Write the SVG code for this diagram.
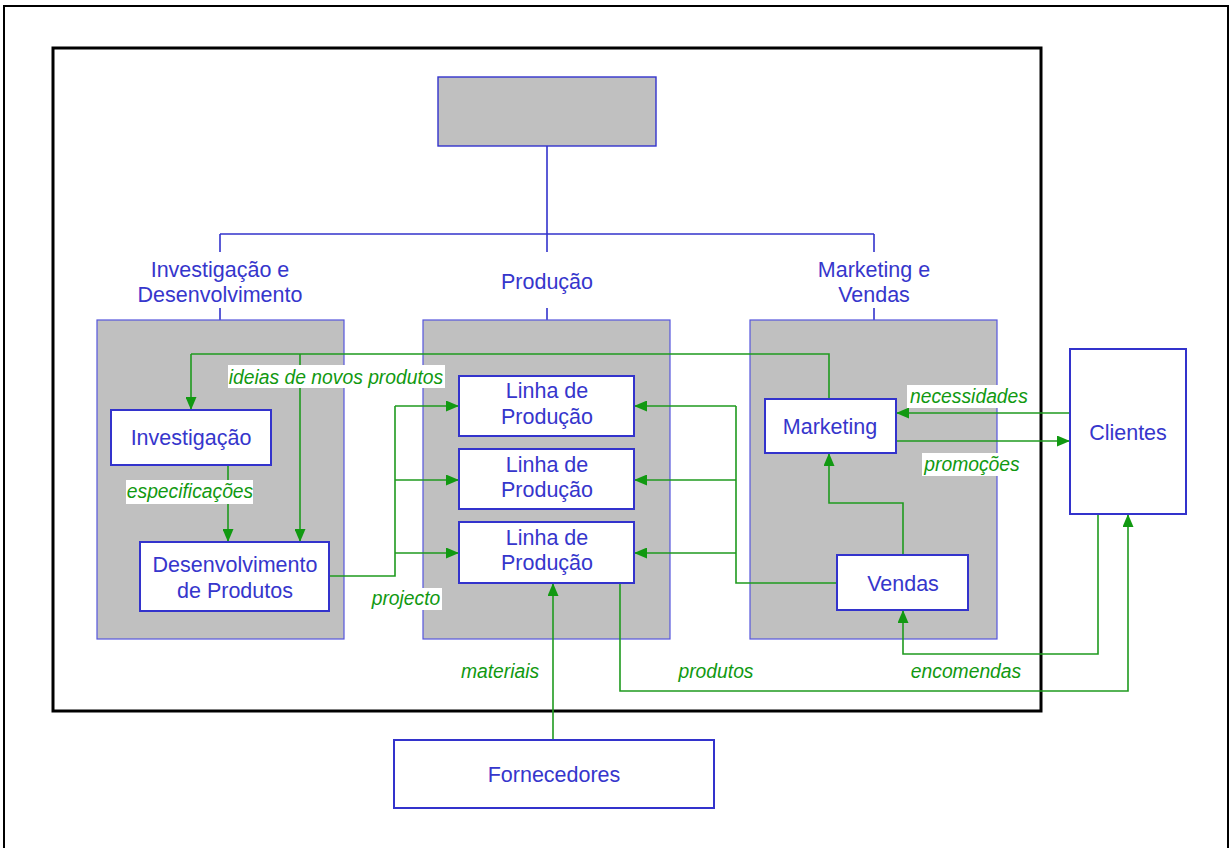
<svg xmlns="http://www.w3.org/2000/svg" width="1232" height="848" viewBox="0 0 1232 848">
  <style>
    .frame { fill: none; stroke: #000; }
    .org { fill: none; stroke: #3333cc; stroke-width: 1.6; }
    .col { fill: #c0c0c0; stroke: #5555dd; stroke-width: 1.2; }
    .box { fill: #fff; stroke: #3333cc; stroke-width: 2; }
    .head { fill: #c0c0c0; stroke: #3333cc; stroke-width: 1.4; }
    .t { font-family: "Liberation Sans", Arial, sans-serif; font-size: 21.5px; fill: #3636cc; text-anchor: middle; }
    .g { font-family: "Liberation Sans", Arial, sans-serif; font-size: 19.3px; font-style: italic; fill: #119911; text-anchor: middle; }
    .lbg { fill: #fff; }
    .flow { fill: none; stroke: #1f9a1f; stroke-width: 1.6; marker-end: url(#arr); }
    .flow0 { fill: none; stroke: #1f9a1f; stroke-width: 1.6; }
  </style>
  <defs>
    <marker id="arr" viewBox="0 0 13 11" refX="13" refY="5.5" markerWidth="13" markerHeight="11" markerUnits="userSpaceOnUse" orient="auto">
      <path d="M0,0 L13,5.5 L0,11 z" fill="#119911"/>
    </marker>
  </defs>

  <rect width="1232" height="848" fill="#fff"/>
  <!-- page frames -->
  <rect class="frame" x="4" y="6" width="1224" height="870" stroke-width="2"/>
  <rect class="frame" x="53" y="48" width="988" height="663" stroke-width="3"/>

  <!-- organisation chart lines -->
  <g id="org-lines">
    <path class="org" d="M547,146 V234 M220,234 H874 M220,234 V252 M547,234 V252 M874,234 V252 M220,308 V320 M547,308 V320 M874,308 V320"/>
  </g>

  <g id="top">
    <rect class="head" x="438" y="77" width="218" height="69"/>
  </g>

  <!-- department columns -->
  <g id="col-id">
    <text class="t" x="220" y="277">Investigação e</text>
    <text class="t" x="220" y="302">Desenvolvimento</text>
    <rect class="col" x="97" y="320" width="247" height="319"/>
  </g>
  <g id="col-prod">
    <text class="t" x="547" y="289">Produção</text>
    <rect class="col" x="423" y="320" width="247" height="319"/>
  </g>
  <g id="col-mv">
    <text class="t" x="874" y="277">Marketing e</text>
    <text class="t" x="874" y="302">Vendas</text>
    <rect class="col" x="750" y="320" width="247" height="319"/>
  </g>

  <!-- connectors -->
  <g id="connectors">
    <!-- ideias de novos produtos -->
    <path class="flow0" d="M829,399 V354 H191"/>
    <path class="flow" d="M191,354 V410"/>
    <path class="flow" d="M300,354 V542"/>
    <!-- especificações -->
    <path class="flow" d="M228,465 V542"/>
    <!-- projecto -->
    <path class="flow0" d="M329,576 H395 V406"/>
    <path class="flow" d="M395,406 H459"/>
    <path class="flow" d="M395,480 H459"/>
    <path class="flow" d="M395,553 H459"/>
    <!-- vendas to production lines -->
    <path class="flow0" d="M837,583 H736 V406"/>
    <path class="flow" d="M736,406 H634"/>
    <path class="flow" d="M736,480 H634"/>
    <path class="flow" d="M736,553 H634"/>
    <!-- vendas to marketing -->
    <path class="flow" d="M903,555 V503 H829 V453"/>
    <!-- necessidades / promoções -->
    <path class="flow" d="M1070,413 H896"/>
    <path class="flow" d="M896,441 H1070"/>
    <!-- encomendas -->
    <path class="flow" d="M1098,514 V654 H903 V610"/>
    <!-- produtos -->
    <path class="flow" d="M620,583 V691 H1128 V514"/>
    <!-- materiais -->
    <path class="flow" d="M553,740 V583"/>
  </g>

  <!-- connector labels -->
  <g id="labels">
    <rect class="lbg" x="228" y="365" width="217" height="23"/>
    <text class="g" x="336" y="384">ideias de novos produtos</text>
    <rect class="lbg" x="126" y="480" width="127" height="24"/>
    <text class="g" x="190" y="498">especificações</text>
    <rect class="lbg" x="370" y="588" width="72" height="22"/>
    <text class="g" x="406" y="605">projecto</text>
    <rect class="lbg" x="907" y="385" width="123" height="23"/>
    <text class="g" x="969" y="403">necessidades</text>
    <rect class="lbg" x="922" y="453" width="100" height="23"/>
    <text class="g" x="972" y="471">promoções</text>
    <text class="g" x="500" y="678">materiais</text>
    <text class="g" x="716" y="678">produtos</text>
    <text class="g" x="966" y="678">encomendas</text>
  </g>

  <!-- nodes -->
  <g id="investigacao">
    <rect class="box" x="111" y="410" width="160" height="55"/>
    <text class="t" x="191" y="445">Investigação</text>
  </g>
  <g id="desenvolvimento">
    <rect class="box" x="140" y="542" width="189" height="69"/>
    <text class="t" x="235" y="572">Desenvolvimento</text>
    <text class="t" x="235" y="598">de Produtos</text>
  </g>
  <g id="linha1">
    <rect class="box" x="459" y="376" width="175" height="60"/>
    <text class="t" x="547" y="398">Linha de</text>
    <text class="t" x="547" y="424">Produção</text>
  </g>
  <g id="linha2">
    <rect class="box" x="459" y="449" width="175" height="60"/>
    <text class="t" x="547" y="472">Linha de</text>
    <text class="t" x="547" y="497">Produção</text>
  </g>
  <g id="linha3">
    <rect class="box" x="459" y="522" width="175" height="61"/>
    <text class="t" x="547" y="545">Linha de</text>
    <text class="t" x="547" y="570">Produção</text>
  </g>
  <g id="marketing">
    <rect class="box" x="765" y="399" width="131" height="54"/>
    <text class="t" x="830" y="434">Marketing</text>
  </g>
  <g id="vendas">
    <rect class="box" x="837" y="555" width="131" height="55"/>
    <text class="t" x="903" y="591">Vendas</text>
  </g>
  <g id="clientes">
    <rect class="box" x="1070" y="349" width="116" height="165"/>
    <text class="t" x="1128" y="440">Clientes</text>
  </g>
  <g id="fornecedores">
    <rect class="box" x="394" y="740" width="320" height="68"/>
    <text class="t" x="554" y="782">Fornecedores</text>
  </g>
</svg>
